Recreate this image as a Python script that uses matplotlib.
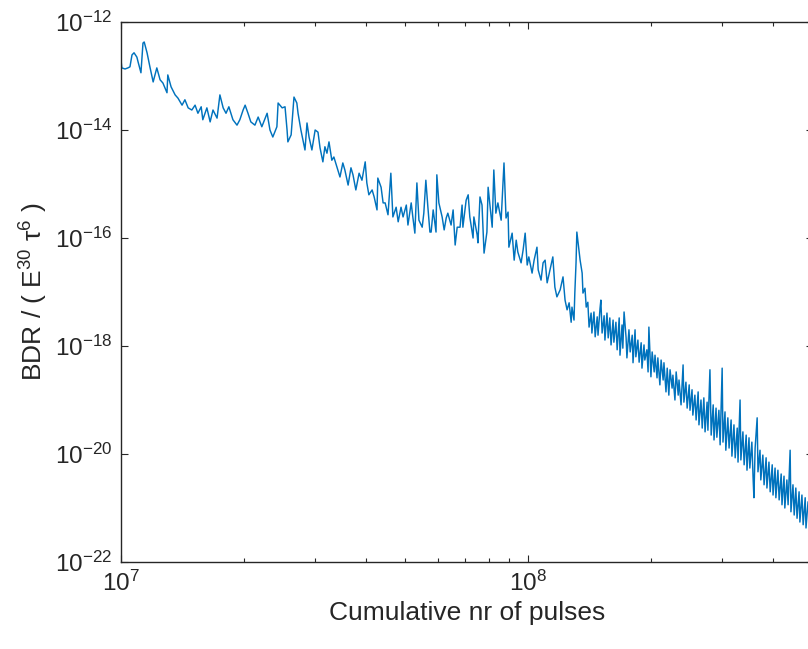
import numpy as np
import matplotlib
matplotlib.use("Agg")
import matplotlib.pyplot as plt
from matplotlib.ticker import LogLocator, FixedLocator, NullLocator, NullFormatter

# --- data (log10 values) ---
log_pulses = [
    7.000, 7.002, 7.010, 7.017, 7.022, 7.027, 7.032, 7.039, 7.042, 7.049,
    7.054, 7.057, 7.064, 7.071, 7.079, 7.088, 7.096, 7.103, 7.113, 7.115,
    7.123, 7.133, 7.140, 7.150, 7.157, 7.165, 7.174, 7.182, 7.189, 7.197,
    7.201, 7.211, 7.219, 7.226, 7.236, 7.243, 7.251, 7.258, 7.265, 7.275,
    7.285, 7.292, 7.300, 7.305, 7.312, 7.319, 7.329, 7.337, 7.346, 7.359,
    7.366, 7.373, 7.383, 7.386, 7.396, 7.403,
    7.408, 7.410, 7.418, 7.423, 7.425, 7.432, 7.435, 7.442, 7.447, 7.452,
    7.457, 7.462, 7.469, 7.477, 7.484, 7.489, 7.496, 7.501, 7.506, 7.511,
    7.518, 7.523, 7.531, 7.538, 7.545, 7.550, 7.558, 7.565, 7.570, 7.577,
    7.585, 7.592, 7.600, 7.604, 7.609, 7.617, 7.622, 7.629, 7.631, 7.639,
    7.644, 7.649, 7.656, 7.663, 7.668, 7.676, 7.681, 7.688, 7.693, 7.701,
    7.705, 7.713, 7.717, 7.722, 7.727, 7.732, 7.740, 7.744, 7.749, 7.754,
    7.759,
    7.762, 7.767, 7.774, 7.776, 7.781, 7.789, 7.794, 7.799, 7.803, 7.811,
    7.816, 7.821, 7.826, 7.833, 7.838, 7.840, 7.848, 7.853, 7.857, 7.865,
    7.867, 7.875, 7.877, 7.882, 7.887, 7.892, 7.899, 7.902, 7.907, 7.912,
    7.916, 7.921, 7.926, 7.934, 7.939, 7.941, 7.946, 7.951, 7.953, 7.961,
    7.966, 7.971, 7.975, 7.983, 7.988, 7.993, 7.998, 8.002, 8.010, 8.015,
    8.022, 8.025, 8.032, 8.037, 8.042, 8.047, 8.054, 8.061, 8.066, 8.071,
    8.079, 8.086, 8.091, 8.096, 8.101, 8.106, 8.108, 8.113, 8.115, 8.118,
    8.120, 8.125, 8.128,
    8.133, 8.135, 8.140, 8.143, 8.147, 8.150, 8.155, 8.157, 8.162, 8.165,
    8.170, 8.172, 8.177, 8.179, 8.182, 8.187, 8.189, 8.194, 8.197, 8.201,
    8.204, 8.209, 8.211, 8.216, 8.219, 8.224, 8.226, 8.231, 8.233, 8.236,
    8.241, 8.243, 8.248, 8.251, 8.256, 8.258, 8.263, 8.265, 8.270, 8.273,
    8.278, 8.280, 8.285, 8.287, 8.292, 8.295, 8.297, 8.302, 8.305, 8.310,
    8.312, 8.317, 8.319, 8.324, 8.327, 8.332, 8.334, 8.339, 8.342, 8.346,
    8.349, 8.354, 8.356, 8.361, 8.364, 8.369, 8.371, 8.376, 8.381, 8.383,
    8.388, 8.391, 8.396, 8.398, 8.403, 8.405, 8.410, 8.413, 8.418, 8.420,
    8.425, 8.428, 8.432, 8.435, 8.440, 8.442, 8.447, 8.450, 8.455, 8.457,
    8.462, 8.464, 8.469, 8.472, 8.477, 8.479, 8.484, 8.486, 8.491, 8.494,
    8.499, 8.501, 8.506, 8.509, 8.514, 8.516, 8.521, 8.523, 8.528, 8.531,
    8.536, 8.538, 8.543, 8.545, 8.550, 8.553, 8.555, 8.558, 8.563, 8.565,
    8.570, 8.572, 8.577, 8.580, 8.585, 8.587, 8.592, 8.595, 8.600, 8.602,
    8.607, 8.609, 8.614, 8.617, 8.622, 8.624, 8.629, 8.631, 8.636, 8.639,
    8.644, 8.646, 8.651, 8.654, 8.658, 8.661, 8.666, 8.668, 8.673, 8.676,
    8.681, 8.683, 8.688,
]

log_bdr = [
    -12.70, -12.85, -12.87, -12.85, -12.83, -12.61, -12.57, -12.65, -12.74, -12.94,
    -12.39, -12.37, -12.57, -12.83, -13.11, -12.85, -13.07, -13.13, -13.31, -12.98,
    -13.20, -13.35, -13.41, -13.54, -13.44, -13.59, -13.63, -13.54, -13.69, -13.57,
    -13.81, -13.59, -13.85, -13.63, -13.78, -13.35, -13.59, -13.69, -13.57, -13.81,
    -13.91, -13.81, -13.63, -13.54, -13.69, -13.85, -13.91, -13.76, -13.94, -13.69,
    -14.00, -14.13, -13.94, -13.50, -13.59, -13.57,
    -14.00, -14.22, -14.09, -13.57, -13.39, -13.50, -13.69, -14.00, -14.19, -14.37,
    -13.87, -14.13, -14.37, -14.00, -14.04, -14.33, -14.59, -14.31, -14.43, -14.22,
    -14.56, -14.50, -14.70, -14.87, -14.61, -14.74, -15.02, -14.70, -14.83, -15.11,
    -14.80, -14.93, -14.59, -14.98, -15.20, -15.11, -15.24, -15.48, -14.89, -15.06,
    -15.35, -15.35, -15.57, -14.80, -15.61, -15.43, -15.70, -15.43, -15.61, -15.39,
    -15.76, -15.35, -15.61, -15.91, -14.98, -15.67, -15.80, -15.54, -14.93, -15.43,
    -15.89,
    -15.89, -15.48, -15.89, -14.83, -15.35, -15.61, -15.85, -15.63, -15.54, -15.76,
    -15.48, -16.13, -15.80, -15.80, -15.39, -15.80, -15.30, -15.20, -15.61, -16.00,
    -15.61, -15.94, -16.09, -15.24, -15.39, -16.28, -15.89, -15.06, -15.44, -15.80,
    -14.74, -15.54, -15.35, -15.67, -14.93, -14.61, -15.63, -15.52, -16.17, -15.91,
    -16.41, -16.04, -16.26, -16.46, -16.22, -15.91, -16.50, -16.35, -16.65, -16.41,
    -16.17, -16.59, -16.78, -16.46, -16.41, -16.83, -16.59, -16.35, -16.91, -17.09,
    -16.96, -16.72, -17.15, -17.33, -17.20, -17.56, -17.28, -17.52, -17.02, -16.46,
    -15.89, -16.22, -16.41,
    -16.65, -17.02, -16.93, -17.28, -17.19, -17.65, -17.39, -17.76, -17.37, -17.83,
    -17.46, -17.80, -17.30, -17.15, -17.76, -17.44, -17.89, -17.39, -17.85, -17.48,
    -17.98, -17.52, -17.93, -17.56, -18.07, -17.48, -18.17, -17.61, -18.04, -17.37,
    -17.85, -18.22, -17.70, -18.11, -17.80, -18.31, -17.70, -18.20, -17.89, -18.30,
    -17.94, -18.41, -17.98, -18.26, -18.07, -18.48, -17.65, -18.57, -18.11, -18.48,
    -18.17, -18.59, -18.22, -18.72, -18.26, -18.63, -18.31, -18.85, -18.41, -18.91,
    -18.44, -18.78, -18.54, -19.00, -18.48, -18.91, -18.63, -19.09, -18.35, -19.04,
    -18.67, -19.15, -18.72, -19.19, -18.81, -19.28, -18.91, -19.37, -18.85, -19.46,
    -19.00, -19.52, -18.96, -19.59, -19.04, -19.56, -18.44, -19.65, -19.09, -19.74,
    -19.15, -19.69, -19.19, -19.83, -18.41, -19.78, -19.22, -19.93, -19.33, -19.89,
    -19.37, -20.04, -19.46, -20.07, -19.52, -20.15, -19.00, -20.11, -19.59, -20.20,
    -19.65, -20.30, -19.70, -20.26, -19.78, -20.44, -20.81, -19.89, -19.33, -20.33,
    -19.93, -20.48, -20.02, -20.57, -20.07, -20.63, -20.15, -20.70, -20.20, -20.76,
    -20.26, -20.81, -20.30, -20.85, -20.37, -20.94, -20.41, -21.00, -20.48, -20.94,
    -19.93, -21.07, -20.57, -21.13, -20.63, -21.19, -20.70, -21.26, -20.76, -21.31,
    -20.81, -21.37, -20.89,
]

y_ticks = [1e-22, 1e-20, 1e-18, 1e-16, 1e-14, 1e-12]

# --- style, MATLAB look ---
plt.rcParams['font.family'] = ['Liberation Sans', 'DejaVu Sans']
plt.rcParams['mathtext.fontset'] = 'custom'
plt.rcParams['mathtext.rm'] = 'Liberation Sans'
plt.rcParams['mathtext.it'] = 'Liberation Sans:italic'
plt.rcParams['mathtext.default'] = 'regular'
plt.rcParams['axes.unicode_minus'] = False

axis_col = '#262626'

fig = plt.figure(figsize=(8.08, 6.49), dpi=100)
# axes runs a little past the right edge of the picture, like the reference
ax = fig.add_axes([121 / 808, 87 / 649, 691.5 / 808, 540 / 649])

x = 10.0 ** np.array(log_pulses)
y = 10.0 ** np.array(log_bdr)
ax.plot(x, y, color='#0072BD', lw=1.05)

ax.set_xscale('log')
ax.set_yscale('log')
ax.set_xlim(1e7, 5e8)
ax.set_ylim(1e-22, 1e-12)

ax.xaxis.set_major_locator(LogLocator(base=10))
ax.xaxis.set_minor_locator(LogLocator(base=10, subs=np.arange(2, 10)))
ax.xaxis.set_minor_formatter(NullFormatter())
ax.yaxis.set_major_locator(FixedLocator(y_ticks))
ax.yaxis.set_minor_locator(NullLocator())

ax.tick_params(which='both', direction='in', top=True, right=True,
               colors=axis_col, labelcolor=axis_col, width=0.8)
ax.tick_params(which='major', length=5, labelsize=17.5, pad=6)
ax.tick_params(which='minor', length=3)
for s in ax.spines.values():
    s.set_color(axis_col)
    s.set_linewidth(1.0)

ax.set_xlabel('Cumulative nr of pulses', fontsize=19, color=axis_col)
ax.set_ylabel(r'BDR / ( E$^{30}$ $\tau^{6}$ )', fontsize=19, color=axis_col)

fig.savefig('out.png', dpi=100)
